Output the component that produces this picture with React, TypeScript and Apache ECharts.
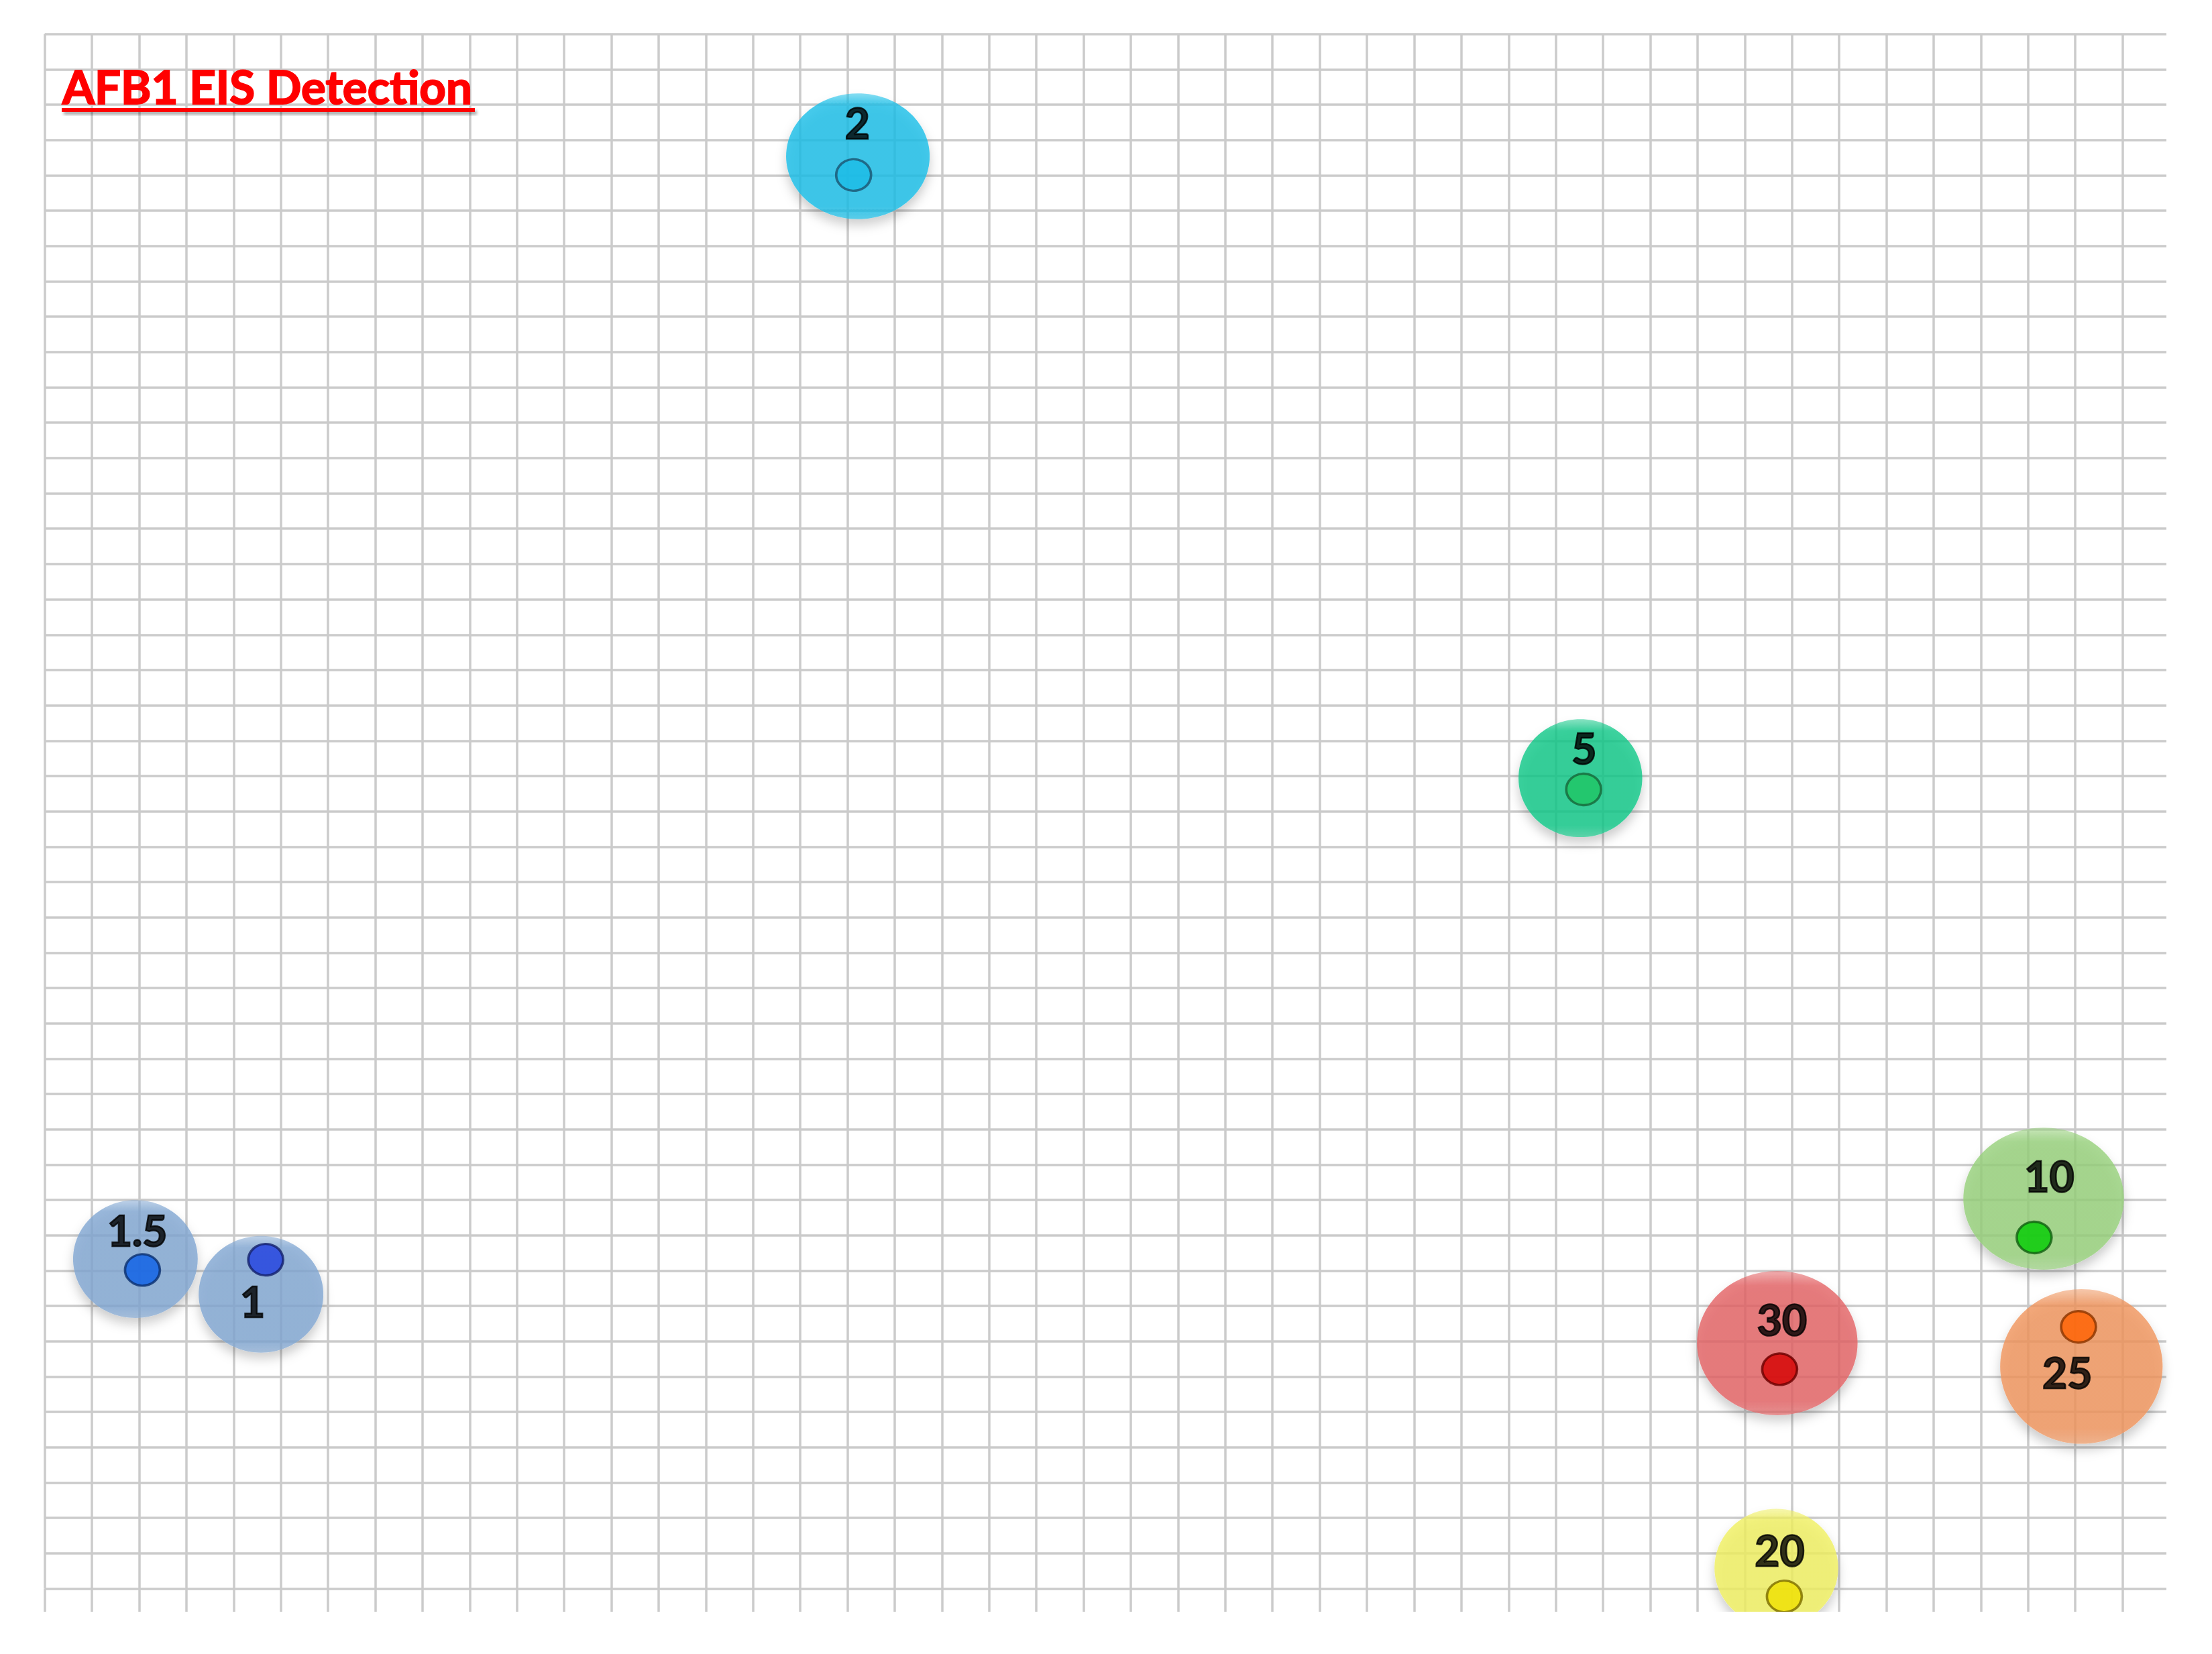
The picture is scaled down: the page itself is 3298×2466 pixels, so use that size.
import React, { useEffect, useRef } from "react";
import * as echarts from "echarts";

// Sample concentrations (one bubble each)
const concentrations = ["1.5", "1", "2", "5", "10", "20", "25", "30"];
// Measured point of each sample, in grid-cell units (x from left ruled line, y from bottom ruled line)
const pointX = [2.07, 4.68, 17.13, 32.59, 42.13, 36.84, 43.07, 36.74];
const pointY = [9.02, 9.31, 40.01, 22.62, 9.94, -0.22, 7.41, 6.21];
// Bubble centre and half extents, grid-cell units
const bubbleX = [1.92, 4.58, 17.22, 32.52, 42.33, 36.67, 43.13, 36.69];
const bubbleY = [9.33, 8.33, 40.54, 22.94, 11.04, 0.59, 6.29, 6.95];
const bubbleHalfW = [1.32, 1.32, 1.52, 1.31, 1.7, 1.31, 1.72, 1.7];
const bubbleHalfH = [1.67, 1.65, 1.78, 1.67, 2.01, 1.67, 2.19, 2.04];
// Label anchors, grid-cell units
const labelX = [1.96, 4.4, 17.21, 32.6, 42.45, 36.74, 42.83, 36.79];
const labelY = [10.16, 8.15, 41.49, 23.81, 11.7, 1.11, 6.14, 7.64];
// Paper grid extent (cells)
const gridCols = 44.93;
const gridRows = 44;

const titleText = "AFB1 EIS Detection";

const bubbleColors: Record<string, string> = {
  "1.5": "128,166,210",
  "1": "128,166,210",
  "2": "22,190,232",
  "5": "14,200,136",
  "10": "150,208,122",
  "20": "240,240,96",
  "25": "240,148,92",
  "30": "228,98,100",
};
const dotColors: Record<string, [string, string]> = {
  "1.5": ["#0a5ee6", "#0b2f6e"],
  "1": ["#1f3fe0", "#14206a"],
  "2": ["#1cbbe6", "#1b5470"],
  "5": ["#1fc664", "#17663a"],
  "10": ["#00cc00", "#135f13"],
  "20": ["#efe000", "#7a6c00"],
  "25": ["#ff6000", "#8a3400"],
  "30": ["#d40000", "#6a0000"],
};

const LINE = { color: "#cbcbcb", width: 3.5 };

export default function App() {
  const ref = useRef<HTMLDivElement>(null);
  useEffect(() => {
    if (!ref.current) return;
    const chart = echarts.init(ref.current, undefined, { renderer: "svg" });
    const gridLeft = 58.7;
    const gridTop = 42.7;
    const gridWidth = 3163.3;
    const gridHeight = 2317.9;

    const bubbleData = concentrations.map((c, i) => ({
      name: c,
      value: [bubbleX[i], bubbleY[i], bubbleHalfW[i], bubbleHalfH[i]],
    }));
    const dotData = concentrations.map((c, i) => ({
      name: c,
      value: [pointX[i], pointY[i]],
      itemStyle: { color: dotColors[c][0], borderColor: dotColors[c][1], borderWidth: 3.5 },
    }));
    const labelData = concentrations.map((c, i) => ({ name: c, value: [labelX[i], labelY[i]] }));

    const hiddenAxis = {
      axisLine: { show: false },
      axisTick: { show: false },
      axisLabel: { show: false },
    };

    chart.setOption({
      animation: false,
      backgroundColor: "#ffffff",
      grid: [
        { left: gridLeft, top: gridTop, width: gridWidth, height: gridHeight },
        { left: gridLeft, top: gridTop + gridHeight, width: gridWidth, height: 40 },
      ],
      xAxis: [
        {
          gridIndex: 0,
          type: "value",
          min: 0,
          max: gridCols,
          interval: 1,
          ...hiddenAxis,
          splitLine: { show: true, showMaxLine: false, lineStyle: LINE },
        },
        {
          gridIndex: 1,
          type: "value",
          min: 0,
          max: gridCols,
          interval: 1,
          ...hiddenAxis,
          splitLine: { show: true, showMaxLine: false, lineStyle: LINE },
        },
      ],
      yAxis: [
        {
          gridIndex: 0,
          type: "value",
          min: 0,
          max: gridRows,
          interval: 1,
          ...hiddenAxis,
          splitLine: { show: true, lineStyle: LINE },
        },
        {
          gridIndex: 1,
          type: "value",
          min: 0,
          max: 1,
          ...hiddenAxis,
          splitLine: { show: false },
        },
      ],
      series: [
        {
          type: "custom",
          name: "bubbles",
          coordinateSystem: "cartesian2d",
          xAxisIndex: 0,
          yAxisIndex: 0,
          clip: false,
          silent: true,
          z: 1,
          data: bubbleData,
          renderItem: (params: any, api: any) => {
            const cx = api.value(0);
            const cy = api.value(1);
            const c = api.coord([cx, cy]);
            const s = api.size([api.value(2), api.value(3)], [cx, cy]);
            const rgb = bubbleColors[concentrations[params.dataIndex]];
            return {
              type: "ellipse",
              shape: { cx: c[0], cy: c[1], rx: s[0], ry: s[1] },
              style: {
                fill: {
                  type: "linear",
                  x: 0,
                  y: 0,
                  x2: 0,
                  y2: 1,
                  colorStops: [
                    { offset: 0, color: `rgba(${rgb},0.5)` },
                    { offset: 0.1, color: `rgba(${rgb},0.8)` },
                    { offset: 0.9, color: `rgba(${rgb},0.8)` },
                    { offset: 1, color: `rgba(${rgb},0.62)` },
                  ],
                },
                shadowBlur: 16,
                shadowOffsetY: 10,
                shadowColor: "rgba(0,0,0,0.25)",
              },
            };
          },
        },
        {
          type: "scatter",
          name: "points",
          xAxisIndex: 0,
          yAxisIndex: 0,
          clip: false,
          silent: true,
          z: 3,
          symbol: "circle",
          symbolSize: [52, 47],
          data: dotData,
        },
        {
          type: "scatter",
          name: "labels",
          xAxisIndex: 0,
          yAxisIndex: 0,
          clip: false,
          silent: true,
          z: 4,
          symbolSize: 1,
          itemStyle: { color: "rgba(0,0,0,0)" },
          label: {
            show: true,
            position: "inside",
            formatter: (p: any) => p.name,
            fontFamily: "Lato",
            fontWeight: "bold",
            fontSize: 64,
            color: "#000000",
            textBorderColor: "#000000",
            textBorderWidth: 2.5,
          },
          data: labelData,
        },
      ],
      graphic: [
        {
          type: "text",
          z: 10,
          x: 85,
          y: 120,
          style: {
            text: titleText,
            fill: "#ff0000",
            stroke: "#ff0000",
            lineWidth: 2,
            fontFamily: "Lato",
            fontWeight: "bold",
            fontSize: 69,
            align: "left",
            verticalAlign: "middle",
            shadowColor: "rgba(0,0,0,0.35)",
            shadowBlur: 4,
            shadowOffsetX: 3,
            shadowOffsetY: 4,
          },
        },
        {
          type: "rect",
          z: 10,
          shape: { x: 84, y: 153, width: 616, height: 6 },
          style: {
            fill: "#ff0000",
            shadowColor: "rgba(0,0,0,0.35)",
            shadowBlur: 4,
            shadowOffsetX: 3,
            shadowOffsetY: 4,
          },
        },
      ],
    });
    return () => chart.dispose();
  }, []);
  return <div ref={ref} style={{ width: 3282, height: 2395, overflow: "hidden" }} />;
}
